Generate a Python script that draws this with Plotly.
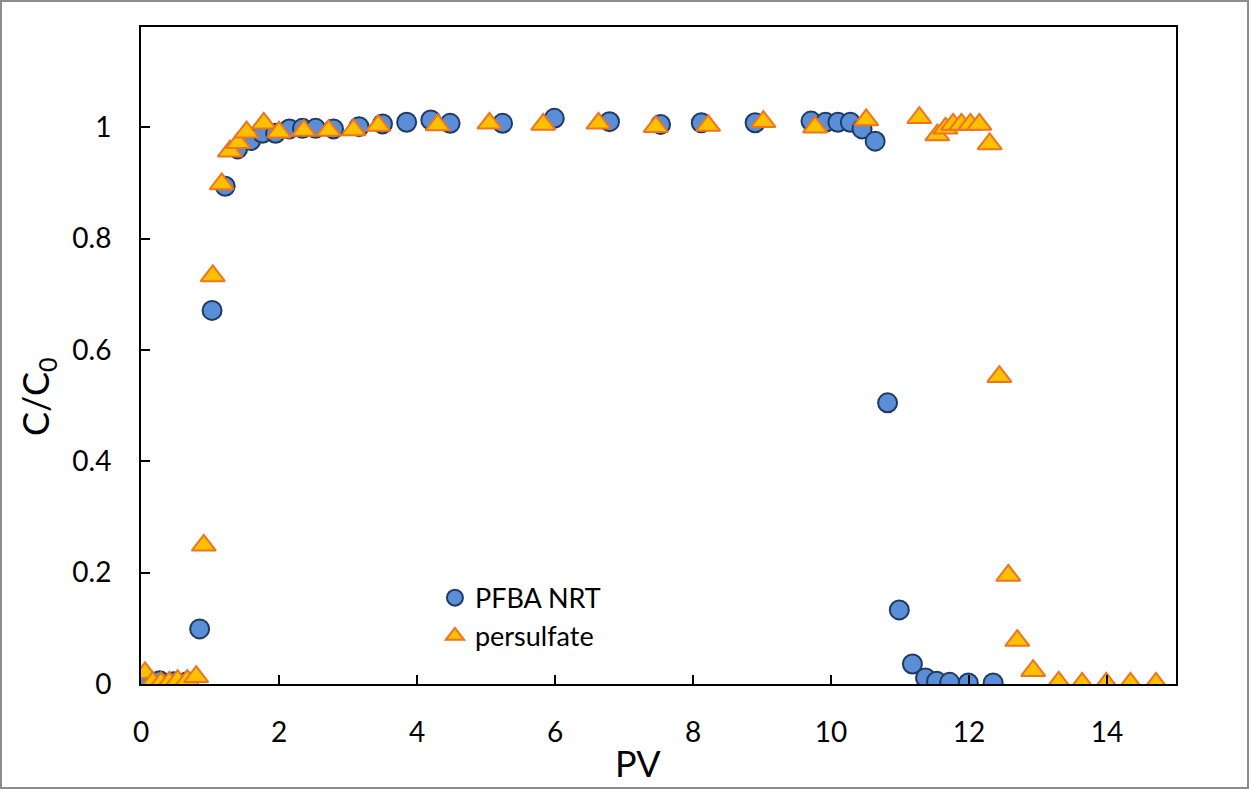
import plotly.graph_objects as go

# ---- data ----
pfba_pv = [0.08, 0.27, 0.47, 0.67, 0.85, 1.03, 1.22, 1.40, 1.59, 1.76, 1.95, 2.15, 2.34,
           2.53, 2.79, 3.16, 3.50, 3.85, 4.20, 4.48, 5.24, 5.99, 6.79, 7.53, 8.12, 8.90,
           9.71, 9.92, 10.10, 10.28, 10.45, 10.64, 10.82, 10.99, 11.18, 11.37, 11.53,
           11.72, 11.99, 12.35]
pfba_c = [0.005, 0.006, 0.004, 0.004, 0.099, 0.671, 0.894, 0.961, 0.976, 0.989, 0.989,
          0.997, 0.998, 0.998, 0.997, 1.001, 1.006, 1.009, 1.013, 1.007, 1.007, 1.016,
          1.010, 1.005, 1.008, 1.008, 1.011, 1.009, 1.009, 1.009, 0.997, 0.975, 0.505,
          0.133, 0.036, 0.011, 0.005, 0.003, 0.002, 0.002]

pers_pv = [0.06, 0.17, 0.29, 0.41, 0.53, 0.67, 0.80, 0.91, 1.04, 1.17, 1.29, 1.41, 1.53,
           1.78, 2.00, 2.36, 2.72, 3.08, 3.44, 4.30, 5.05, 5.83, 6.63, 7.46, 8.22, 9.02,
           9.77, 10.51, 11.28, 11.54, 11.66, 11.77, 11.89, 12.02, 12.15, 12.30, 12.44,
           12.57, 12.70, 12.93, 13.30, 13.64, 13.99, 14.34, 14.71]
pers_c = [0.020, 0.003, 0.002, 0.003, 0.006, 0.006, 0.013, 0.249, 0.733, 0.898, 0.957,
          0.972, 0.991, 1.007, 0.991, 0.994, 0.994, 0.995, 1.003, 1.004, 1.007, 1.005,
          1.007, 1.001, 1.003, 1.010, 1.000, 1.013, 1.017, 0.986, 0.998, 1.005, 1.005,
          1.005, 1.005, 0.970, 0.552, 0.195, 0.078, 0.024, 0.003, 0.001, 0.001, 0.001,
          0.001]

x_ticks = [0, 2, 4, 6, 8, 10, 12, 14]
y_ticks = [0, 0.2, 0.4, 0.6, 0.8, 1]
y_tick_text = ["0", "0.2", "0.4", "0.6", "0.8", "1"]

FONT = "Lato, 'Open Sans', sans-serif"

fig = go.Figure()
fig.add_trace(go.Scatter(
    x=pfba_pv, y=pfba_c, mode="markers", name="PFBA NRT",
    marker=dict(symbol="circle", size=19, color="#5A8ED6",
                line=dict(color="#1F3B63", width=2)),
))
fig.add_trace(go.Scatter(
    x=pers_pv, y=pers_c, mode="markers", name="persulfate",
    marker=dict(symbol="triangle-up", size=21, color="#FFC000",
                line=dict(color="#EE7420", width=2)),
))

L, R, T, B = 141, 73, 27, 105
W, H = 1249, 789
pw, ph = W - L - R, H - T - B

fig.update_layout(
    width=W, height=H,
    margin=dict(l=L, r=R, t=T, b=B),
    paper_bgcolor="white", plot_bgcolor="white",
    font=dict(family=FONT, size=28, color="black"),
    showlegend=True,
    legend=dict(x=0.284, y=0.168, xanchor="left", yanchor="top",
                bgcolor="rgba(0,0,0,0)", font=dict(size=27),
                itemsizing="trace", tracegroupgap=0),
    xaxis=dict(range=[0, 15], tickvals=x_ticks, showgrid=False, zeroline=False,
               showline=True, linecolor="black", linewidth=2, mirror=True,
               ticks="inside", ticklen=9, tickwidth=1.5, tickcolor="black",
               tickfont=dict(size=28), ticklabelstandoff=22),
    yaxis=dict(range=[0, 1.18], tickvals=y_ticks, ticktext=y_tick_text,
               showgrid=False, zeroline=False,
               showline=True, linecolor="black", linewidth=2, mirror=True,
               ticks="inside", ticklen=9, tickwidth=1.5, tickcolor="black",
               tickfont=dict(size=28), ticklabelstandoff=22),
    annotations=[
        dict(text="PV", xref="paper", yref="paper", x=(638 - L) / pw, y=(H - B - 763) / ph,
             showarrow=False, font=dict(size=36), xanchor="center", yanchor="middle"),
        dict(text="C/C<sub>0</sub>", xref="paper", yref="paper", x=(37 - L) / pw,
             y=(H - B - 397) / ph, textangle=-90,
             showarrow=False, font=dict(size=36), xanchor="center", yanchor="middle"),
    ],
    shapes=[dict(type="rect", xref="paper", yref="paper",
                 x0=(1 - L) / pw, x1=(W - 1 - L) / pw,
                 y0=(H - B - (H - 1)) / ph, y1=(H - B - 1) / ph,
                 line=dict(color="#8C8C8C", width=2), fillcolor="rgba(0,0,0,0)",
                 layer="below")],
)

fig.write_html("out.html")
